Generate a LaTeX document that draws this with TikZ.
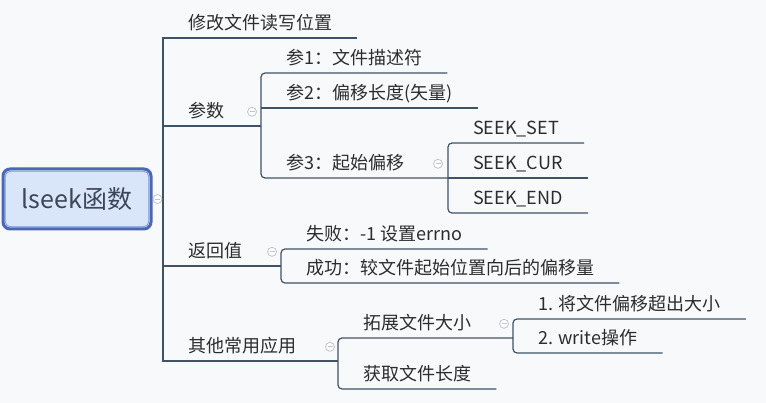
\documentclass[tikz,border=0pt]{standalone}
\usepackage{fontspec}
\setmainfont{Noto Sans CJK SC}
\usetikzlibrary{calc}
\definecolor{bgwhite}{HTML}{F7F9FB}
\definecolor{linegray}{HTML}{3F5266}
\definecolor{textgray}{HTML}{2C2C2C}
\definecolor{rootblue}{HTML}{4A68B5}
\definecolor{rootinner}{HTML}{7D95CF}
\definecolor{rootfill}{HTML}{D9E6FA}
\definecolor{roottext}{HTML}{3C4658}
\definecolor{foldgray}{HTML}{BFC5CC}

\begin{document}
\begin{tikzpicture}[
  x=1pt,y=-1pt,
  topic/.style={anchor=south west,inner xsep=25pt,inner ysep=8pt,text height=12pt,text depth=0pt,font=\fontsize{18}{20}\selectfont,text=textgray},
  rootbox/.style={draw=rootblue,line width=3pt,fill=rootfill,rounded corners=7pt,minimum width=148pt,minimum height=60pt,font=\fontsize{25}{28}\selectfont,text=roottext},
  branch/.style={draw=linegray,line width=1.2pt},
  fold/.style={circle,draw=foldgray,fill=white,line width=0.8pt,minimum size=9pt,inner sep=0pt,
    path picture={\draw[foldgray,line width=0.8pt] ([xshift=-2.5pt]path picture bounding box.center) -- ([xshift=2.5pt]path picture bounding box.center);}}
]
\useasboundingbox (0,0) rectangle (766,403);
\fill[bgwhite] (0,0) rectangle (766,403);

% central topic
\node[rootbox] (root) at (77,199) {lseek函数};
\draw[rootinner,line width=0.8pt,rounded corners=5pt] ([shift={(3.8,3.8)}]root.north west) rectangle ([shift={(-3.8,-3.8)}]root.south east);

% first level
\node[topic] (xiugai) at (163,38) {修改文件读写位置};
\node[topic] (canshu) at (163,126) {参数};
\node[topic] (fanhui) at (163,266) {返回值};
\node[topic] (qita) at (163,361) {其他常用应用};

% second and third level
\node[topic] (can1) at (261,73) {参1：文件描述符};
\node[topic] (can2) at (261,108) {参2：偏移长度(矢量)};
\node[topic] (can3) at (261,178) {参3：起始偏移};
\node[topic] (seekset) at (448,143) {SEEK\_SET};
\node[topic] (seekcur) at (448,178) {SEEK\_CUR};
\node[topic] (seekend) at (448,213) {SEEK\_END};
\node[topic] (shibai) at (281,249) {失败：-1 设置errno};
\node[topic] (chenggong) at (281,283) {成功：较文件起始位置向后的偏移量};
\node[topic] (tuozhan) at (338,338) {拓展文件大小};
\node[topic] (huoqu) at (338,389) {获取文件长度};
\node[topic] (buzhou1) at (513,319) {1. 将文件偏移超出大小};
\node[topic] (buzhou2) at (513,353) {2. write操作};

% main trunk
\draw[branch] (root.east) -- (root.east -| xiugai.south west);
\draw[branch] (xiugai.south east) -- (xiugai.south west) -- (qita.south west) -- (tuozhan.south west |- qita.south west);
\draw[branch] (canshu.south west) -- (can1.south west |- canshu.south west);
\draw[branch] (fanhui.south west) -- (shibai.south west |- fanhui.south west);

% branches
\draw[branch,rounded corners=4pt] (can1.south east) -- (can1.south west) -- (can3.south west) -- (seekset.south west |- can3.south west);
\draw[branch] (can2.south west) -- (can2.south east);
\draw[branch,rounded corners=4pt] (seekset.south east) -- (seekset.south west) -- (seekend.south west) -- (seekend.south east);
\draw[branch] (seekcur.south west) -- (seekcur.south east);
\draw[branch,rounded corners=4pt] (shibai.south east) -- (shibai.south west) -- (chenggong.south west) -- (chenggong.south east);
\draw[branch,rounded corners=4pt] (buzhou1.south west |- tuozhan.south west) -- (tuozhan.south west) -- (huoqu.south west) -- (huoqu.south east);
\draw[branch,rounded corners=4pt] (buzhou1.south east) -- (buzhou1.south west) -- (buzhou2.south west) -- (buzhou2.south east);

% collapse marks
\node[fold] (rootfold) at ($(root.east)+(5,0)$) {};
\node[fold] (canshufold) at ($(canshu.center -| can1.south west)+(-9,0)$) {};
\node[fold] (can3fold) at ($(can3.center -| seekset.south west)+(-10,0)$) {};
\node[fold] (fanhuifold) at ($(fanhui.center -| shibai.south west)+(-9,0)$) {};
\node[fold] (qitafold) at ($(qita.center -| tuozhan.south west)+(-8,0)$) {};
\node[fold] (tuozhanfold) at ($(tuozhan.center -| buzhou1.south west)+(-9,0)$) {};
\end{tikzpicture}
\end{document}
